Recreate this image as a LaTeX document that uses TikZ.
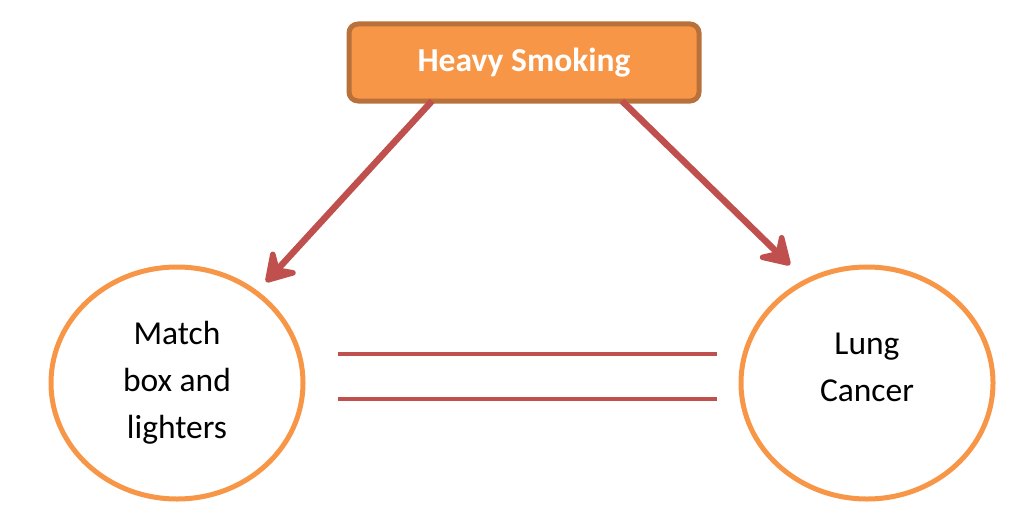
\documentclass[tikz,border=0pt]{standalone}
\usepackage{fontspec}
\setmainfont{Carlito}
\usetikzlibrary{arrows.meta,shapes.geometric}
\definecolor{boxfill}{HTML}{F79646}
\definecolor{boxedge}{HTML}{B8713A}
\definecolor{arrowred}{HTML}{C0504D}
\definecolor{ringorange}{HTML}{F79646}
\tikzset{
  topbox/.style={draw=boxedge, line width=5pt, fill=boxfill, rounded corners=9pt,
    minimum width=350pt, minimum height=77pt, inner sep=0pt,
    font=\fontsize{33.5}{40}\selectfont\bfseries, text=white},
  ring/.style={ellipse, draw=ringorange, line width=5pt, minimum width=252pt, minimum height=232pt,
    inner sep=0pt, align=center, font=\fontsize{33.5}{47}\selectfont},
  causal/.style={draw=arrowred, line width=6.5pt, -{Stealth[length=36pt,width=44pt,inset=14pt,round]}},
  assoc/.style={draw=arrowred, line width=3.5pt}
}
\begin{document}
\begin{tikzpicture}[x=1pt,y=-1pt]
\useasboundingbox (0,0) rectangle (1014,519);
\node[topbox] (hs) at (524,62.5) {\raisebox{-2pt}{Heavy Smoking}};
\node[ring] (mb) at (177,383) {Match\\box and\\lighters};
\node[ring] (lc) at (867,383) {};
\node[align=center, font=\fontsize{33.5}{47}\selectfont] (lct) at ([yshift=16pt]lc.center) {Lung\\Cancer};
\coordinate (hsl) at (432,101);
\coordinate (hsr) at (622,101);
\coordinate (tl) at (266,282);
\coordinate (tr) at (790,265);
\draw[causal] (hsl) -- (tl);
\draw[causal] (hsr) -- (tr);
\coordinate (a1) at (338,354);
\coordinate (a2) at (717,354);
\coordinate (b1) at (338,399);
\coordinate (b2) at (717,399);
\draw[assoc] (a1) -- (a2);
\draw[assoc] (b1) -- (b2);
\end{tikzpicture}
\end{document}
